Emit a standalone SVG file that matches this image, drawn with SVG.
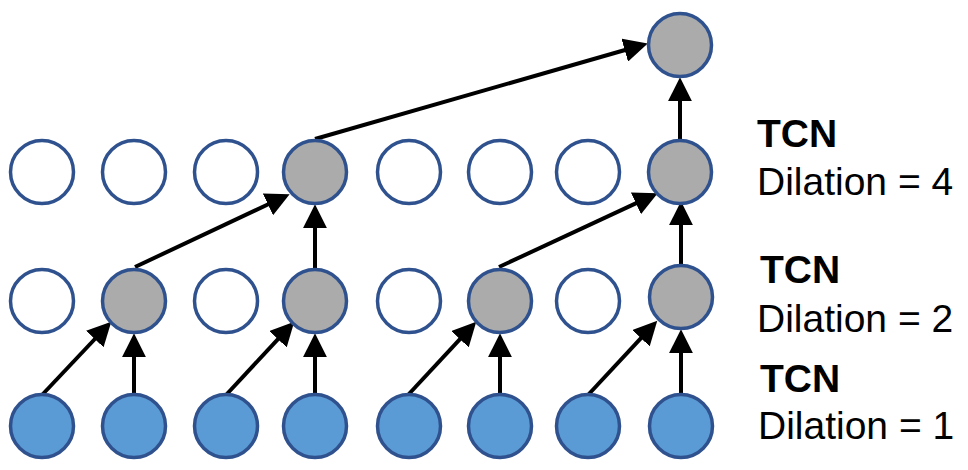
<svg xmlns="http://www.w3.org/2000/svg" width="968" height="470" viewBox="0 0 968 470">
<style>
.in{fill:#5B9BD5;stroke:#2F528F;stroke-width:3.5}
.hid{fill:#ABABAB;stroke:#2F528F;stroke-width:3.5}
.em{fill:#FFFFFF;stroke:#2F528F;stroke-width:3.5}
.c{stroke:#000;stroke-width:4;fill:none;marker-end:url(#ah)}
.t{font-family:"Liberation Sans",Arial,sans-serif;font-size:39px;fill:#000}
.b{font-weight:bold}
</style>
<defs>
<marker id="ah" markerUnits="userSpaceOnUse" markerWidth="24" markerHeight="24" viewBox="0 0 22 22" refX="2" refY="11" orient="auto">
<path d="M0,0 L22,11 L0,22 z" fill="#000"/>
</marker>
</defs>
<rect width="968" height="470" fill="#fff"/>
<g id="connectors">
<line class="c" x1="42" y1="395" x2="96.3" y2="337.5"/>
<line class="c" x1="134" y1="395" x2="134" y2="355"/>
<line class="c" x1="226" y1="395" x2="279.4" y2="337.6"/>
<line class="c" x1="315" y1="395" x2="315" y2="355"/>
<line class="c" x1="408" y1="395" x2="461.4" y2="337.6"/>
<line class="c" x1="500" y1="395" x2="500" y2="355"/>
<line class="c" x1="588" y1="395" x2="642.4" y2="336.6"/>
<line class="c" x1="681" y1="395" x2="681" y2="351"/>
<line class="c" x1="135" y1="267" x2="269.9" y2="203.5"/>
<line class="c" x1="315" y1="268" x2="315" y2="226"/>
<line class="c" x1="499" y1="267" x2="637.9" y2="202.4"/>
<line class="c" x1="681" y1="265" x2="681" y2="223"/>
<line class="c" x1="315" y1="139" x2="626.8" y2="49.5"/>
<line class="c" x1="680" y1="139" x2="680" y2="99"/>
</g>
<g id="input">
<circle id="in0" class="in" cx="42" cy="426" r="31.5"/>
<circle id="in1" class="in" cx="134" cy="426" r="31.5"/>
<circle id="in2" class="in" cx="226" cy="426" r="31.5"/>
<circle id="in3" class="in" cx="315" cy="426" r="31.5"/>
<circle id="in4" class="in" cx="409" cy="426" r="31.5"/>
<circle id="in5" class="in" cx="500" cy="426" r="31.5"/>
<circle id="in6" class="in" cx="588" cy="426" r="31.5"/>
<circle id="in7" class="in" cx="681" cy="426" r="31.5"/>
</g>
<g id="layer1">
<circle id="l1n0" class="em" cx="42" cy="301" r="31.5"/>
<circle id="l1n1" class="hid" cx="134" cy="301" r="31.5"/>
<circle id="l1n2" class="em" cx="226" cy="301" r="31.5"/>
<circle id="l1n3" class="hid" cx="315" cy="301" r="31.5"/>
<circle id="l1n4" class="em" cx="409" cy="301" r="31.5"/>
<circle id="l1n5" class="hid" cx="500" cy="301" r="31.5"/>
<circle id="l1n6" class="em" cx="588" cy="301" r="31.5"/>
<circle id="l1n7" class="hid" cx="681" cy="297" r="31.5"/>
</g>
<g id="layer2">
<circle id="l2n0" class="em" cx="42" cy="172" r="31.5"/>
<circle id="l2n1" class="em" cx="134" cy="172" r="31.5"/>
<circle id="l2n2" class="em" cx="226" cy="172" r="31.5"/>
<circle id="l2n3" class="hid" cx="315" cy="172" r="31.5"/>
<circle id="l2n4" class="em" cx="409" cy="172" r="31.5"/>
<circle id="l2n5" class="em" cx="500" cy="172" r="31.5"/>
<circle id="l2n6" class="em" cx="588" cy="172" r="31.5"/>
<circle id="l2n7" class="hid" cx="680" cy="172" r="31.5"/>
</g>
<g id="output">
<circle id="out" class="hid" cx="680" cy="45" r="31.5"/>
</g>
<g id="labels">
<text class="t b" x="757" y="147">TCN</text>
<text class="t" x="757" y="195">Dilation = 4</text>
<text class="t b" x="760" y="283">TCN</text>
<text class="t" x="757" y="332">Dilation = 2</text>
<text class="t b" x="760" y="392">TCN</text>
<text class="t" x="758" y="439">Dilation = 1</text>
</g>
</svg>
